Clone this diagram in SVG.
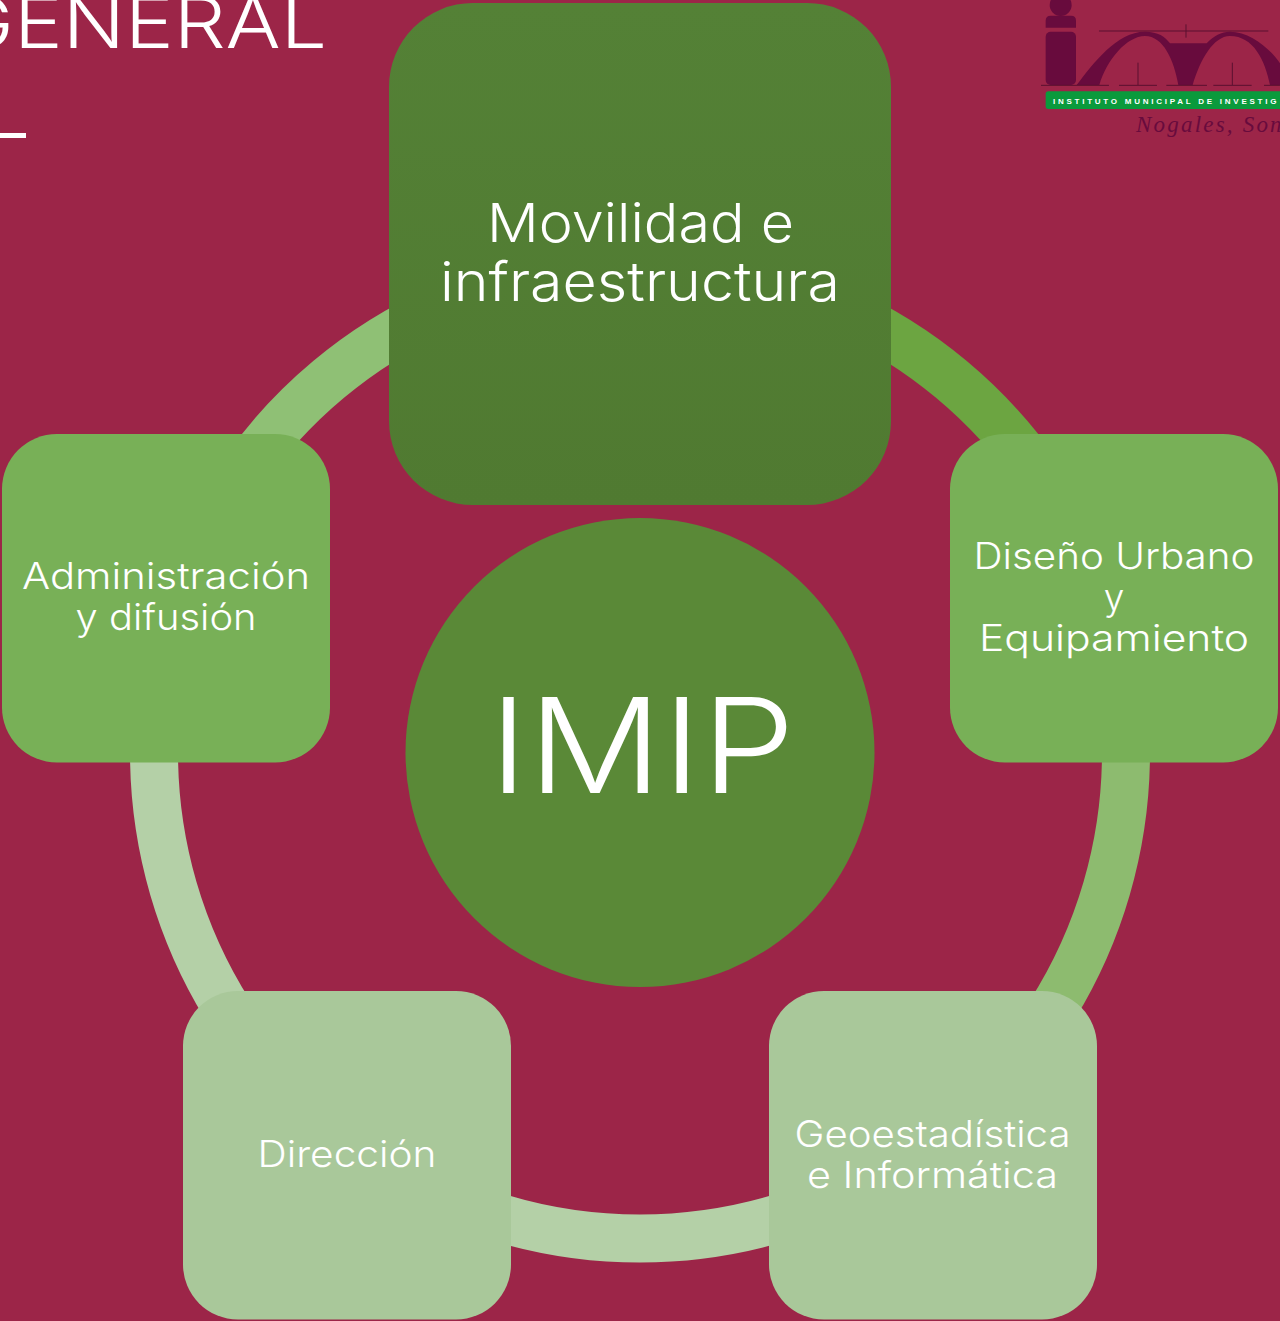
<svg xmlns="http://www.w3.org/2000/svg" width="1280" height="1321" viewBox="0 0 1280 1321">
<style>
text{font-family:Inter,"Noto Sans","Liberation Sans",sans-serif;fill:#fff;text-anchor:middle}
.l{font-size:37px}
.arc{fill:none;stroke-width:48}
.dk{fill:#680b3d}
.ln{stroke:#5a1030;stroke-width:3;fill:none}
</style>
<defs>
<linearGradient id="top" x1="0" y1="0" x2="0" y2="1"><stop offset="0" stop-color="#548136"/><stop offset="1" stop-color="#507a31"/></linearGradient>
</defs>
<rect width="1280" height="1321" fill="#9c2548"/>
<g id="title">
<text x="327" y="48" style="text-anchor:end" font-size="72" font-weight="300" textLength="374" lengthAdjust="spacingAndGlyphs">GENERAL</text>
<rect x="0" y="133" width="26" height="5" fill="#fff"/>
</g>
<g id="logo">
<g transform="translate(1030 0) scale(.33333)">
<circle cx="92" cy="15" r="33" class="dk"/>
<path class="dk" d="M47 83V62Q47 47 62 47H123Q138 47 138 62V83Z"/>
<rect x="47" y="95" width="91" height="160" rx="15" class="dk"/>
<rect x="47" y="274" width="760" height="53" rx="8" fill="#0a9a3c"/>
</g>
<g transform="translate(1070 20) scale(.33333)">
<path class="dk" d="M20 195C70 130 140 35 225 35C265 35 285 50 300 70L410 70C430 48 455 35 480 35C540 35 600 85 630 130L630 195L600 195C585 120 550 48 480 48C430 48 390 120 368 195L325 195C312 120 280 48 225 48C170 48 110 120 88 195Z"/>
<path class="ln" d="M87 33H595M348 13V53M204 128V195M487 128V195M-87 196H117M147 196H261M289 196H411M430 196H545M582 196H630"/>
</g>
<text x="1053" y="104" style="text-anchor:start;font-family:'Liberation Sans',sans-serif;letter-spacing:2.75px" font-size="8" font-weight="700">INSTITUTO MUNICIPAL DE INVESTIG</text>
<text x="1136" y="132" style="text-anchor:start;font-family:'Liberation Serif',serif;fill:#680b3d;letter-spacing:2.2px" font-size="23" font-style="italic">Nogales, Son</text>
</g>
<g id="connectors">
<path class="arc" stroke="#6ca541" d="M840 309.600A486 486 0 0 1 1040 476.500"/>
<path class="arc" stroke="#8dbb6f" d="M1126 752.500A486 486 0 0 1 1050 1013.500"/>
<path class="arc" stroke="#b4d0a7" d="M800 1211.400A486 486 0 0 1 480 1211.400"/>
<path class="arc" stroke="#b4d0a7" d="M230 1013.500A486 486 0 0 1 154 752.500"/>
<path class="arc" stroke="#8fc075" d="M240 476.500A486 486 0 0 1 440 309.600"/>
</g>
<g id="node-center">
<circle cx="640" cy="752.5" r="234.5" fill="#5a8937"/>
<text x="642" y="793" font-size="132" font-weight="300" textLength="306" lengthAdjust="spacingAndGlyphs">IMIP</text>
</g>
<g id="node-movilidad">
<rect x="389" y="3" width="502" height="502" rx="84" fill="url(#top)"/>
<text x="640.5" y="242" font-size="54" font-weight="300" textLength="307" lengthAdjust="spacingAndGlyphs">Movilidad e</text>
<text x="640" y="301" font-size="54" font-weight="300" textLength="400" lengthAdjust="spacingAndGlyphs">infraestructura</text>
</g>
<g id="node-diseno">
<rect x="950" y="434" width="328" height="328.500" rx="55" fill="#78b057"/>
<text x="1114" y="569" class="l" font-weight="300" textLength="281" lengthAdjust="spacingAndGlyphs">Diseño Urbano</text>
<text x="1114" y="610" class="l" font-weight="300">y</text>
<text x="1114" y="651" class="l" font-weight="300" textLength="270" lengthAdjust="spacingAndGlyphs">Equipamiento</text>
</g>
<g id="node-geo">
<rect x="769" y="991" width="328" height="328.500" rx="55" fill="#a9c89a"/>
<text x="932.500" y="1147" class="l" font-weight="300" textLength="276" lengthAdjust="spacingAndGlyphs">Geoestadística</text>
<text x="932.500" y="1188" class="l" font-weight="300" textLength="251" lengthAdjust="spacingAndGlyphs">e Informática</text>
</g>
<g id="node-direccion">
<rect x="183" y="991" width="328" height="328.500" rx="55" fill="#a9c89a"/>
<text x="347" y="1167" class="l" font-weight="300" textLength="179" lengthAdjust="spacingAndGlyphs">Dirección</text>
</g>
<g id="node-admin">
<rect x="2" y="434" width="328" height="328.500" rx="55" fill="#78b057"/>
<text x="166" y="589" class="l" font-weight="300" textLength="288" lengthAdjust="spacingAndGlyphs">Administración</text>
<text x="166" y="630" class="l" font-weight="300" textLength="181" lengthAdjust="spacingAndGlyphs">y difusión</text>
</g>
</svg>
